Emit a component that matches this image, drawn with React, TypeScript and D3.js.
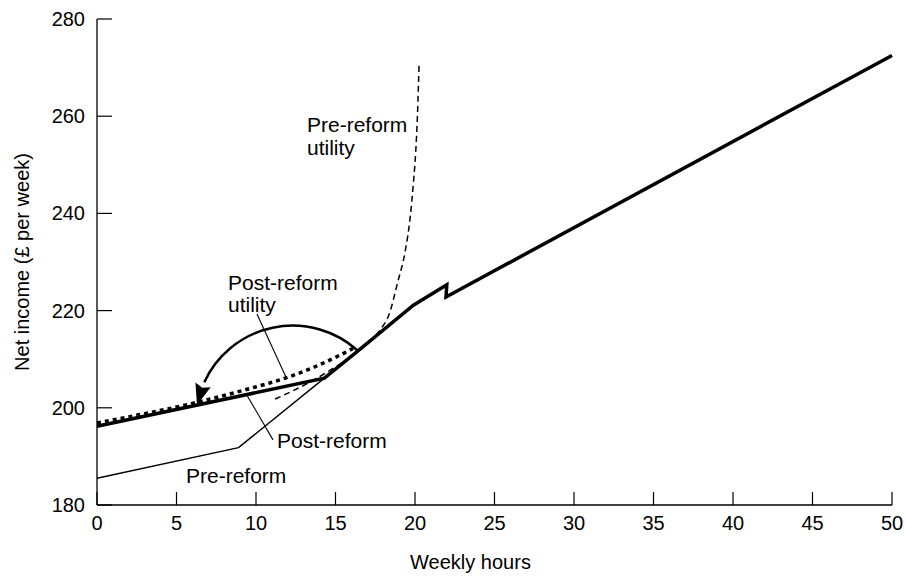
import React from "react";
import * as d3 from "d3";

type P = [number, number];

const xTicks = [0, 5, 10, 15, 20, 25, 30, 35, 40, 45, 50];
const yTicks = [180, 200, 220, 240, 260, 280];

const postReform: P[] = [[0, 196.2], [14.3, 206.1], [16.3, 211.4], [19.9, 221.1], [22.0, 225.3], [21.95, 222.8], [50, 272.5]];
const preReform: P[] = [[0, 185.5], [8.9, 191.8], [14.3, 206.1]];
const postUtility: P[] = [[0, 196.9], [3, 198.8], [6, 200.9], [9.2, 203.6], [12.1, 206.4], [13.6, 208.3], [15.2, 210.7], [16.1, 212.2]];
const preUtility: P[] = [[11.2, 201.8], [13.4, 205.3], [14.6, 207.6], [15.9, 210.4], [17.0, 213.3], [17.8, 216.0], [18.4, 219.5], [18.9, 225.7], [19.4, 232.5], [19.7, 239.3], [19.9, 246.3], [20.05, 253.0], [20.15, 259.8], [20.22, 266.8], [20.26, 271.0]];
// arrow: start, apex, tip (data units) — drawn as circular arc through them
const arrowArc: P[] = [[16.35, 211.9], [12.14, 216.9], [6.29, 200.6]];
const leaderPostUtility: P[] = [[10.06, 219.3], [11.89, 206.3]];
const leaderPost: P[] = [[9.43, 202.6], [11.07, 193.4]];

const W = 906, H = 577;
const M = { left: 97, right: 14, top: 19, bottom: 72 };
const FONT = "'Liberation Sans', Arial, Helvetica, sans-serif";
const FS = 20;
const LFS = 21;

function circleThrough(a: P, b: P, c: P) {
  const [x1, y1] = a, [x2, y2] = b, [x3, y3] = c;
  const A1 = 2 * (x2 - x1), B1 = 2 * (y2 - y1), C1 = x2 * x2 - x1 * x1 + y2 * y2 - y1 * y1;
  const A2 = 2 * (x3 - x2), B2 = 2 * (y3 - y2), C2 = x3 * x3 - x2 * x2 + y3 * y3 - y2 * y2;
  const det = A1 * B2 - A2 * B1;
  const cx = (C1 * B2 - C2 * B1) / det;
  const cy = (A1 * C2 - A2 * C1) / det;
  return { cx, cy, r: Math.hypot(x1 - cx, y1 - cy) };
}

export default function App() {
  const x = d3.scaleLinear().domain([0, 50]).range([M.left, W - M.right]);
  const y = d3.scaleLinear().domain([180, 280]).range([H - M.bottom, M.top]);
  const lin = d3.line<P>().x(d => x(d[0])).y(d => y(d[1]));
  const smooth = d3.line<P>().x(d => x(d[0])).y(d => y(d[1])).curve(d3.curveMonotoneX);

  const px = arrowArc.map(d => [x(d[0]), y(d[1])] as P);
  const { cx, cy, r } = circleThrough(px[0], px[1], px[2]);
  const a0 = Math.atan2(px[0][1] - cy, px[0][0] - cx);
  const a2 = Math.atan2(px[2][1] - cy, px[2][0] - cx);
  let aEnd = a2;
  while (aEnd > a0) aEnd -= 2 * Math.PI;
  const headL = 21, headW = 8;
  const aBase = aEnd + headL / r;
  const p = d3.path();
  p.arc(cx, cy, r, a0, aBase + 0.03, true);
  const tip = px[2];
  const base: P = [cx + r * Math.cos(aBase), cy + r * Math.sin(aBase)];
  const dx = tip[0] - base[0], dy = tip[1] - base[1];
  const len = Math.hypot(dx, dy);
  const ux = dx / len, uy = dy / len;
  const head = `M${tip[0]},${tip[1]}L${base[0] - uy * headW},${base[1] + ux * headW}L${base[0] + ux * 3},${base[1] + uy * 3}L${base[0] + uy * headW},${base[1] - ux * headW}Z`;

  const x0 = x(0), y0 = y(180);
  return (
    <svg width={W} height={H} style={{ position: "absolute", left: 0, top: 0, background: "#fff" }} fontFamily={FONT}>
      <line x1={x0} x2={x0} y1={y(280)} y2={y0} stroke="#000" strokeWidth={1.3} />
      <line x1={x0} x2={x(50)} y1={y0} y2={y0} stroke="#000" strokeWidth={1.3} />
      {yTicks.map(t => (
        <g key={"y" + t}>
          <line x1={x0} x2={x0 + 15} y1={y(t)} y2={y(t)} stroke="#000" strokeWidth={1.2} />
          <text x={x0 - 12} y={y(t)} dy="0.35em" textAnchor="end" fontSize={FS} fill="#000">{t}</text>
        </g>
      ))}
      {xTicks.map(t => (
        <g key={"x" + t}>
          <line x1={x(t)} x2={x(t)} y1={y0} y2={y0 - 13} stroke="#000" strokeWidth={1.2} />
          <text x={x(t)} y={y0 + 25} textAnchor="middle" fontSize={FS} fill="#000">{t}</text>
        </g>
      ))}
      <text x={(x(0) + x(50)) / 2 - 24} y={569} textAnchor="middle" fontSize={FS} fill="#000">Weekly hours</text>
      <text transform={`translate(29,${(y(180) + y(280)) / 2}) rotate(-90)`} textAnchor="middle" fontSize={FS} fill="#000">Net income (£ per week)</text>

      <path d={lin(preReform) || ""} fill="none" stroke="#000" strokeWidth={1.4} />
      <path d={smooth(preUtility) || ""} fill="none" stroke="#000" strokeWidth={1.5} strokeDasharray="6,4" />
      <path d={smooth(postUtility) || ""} fill="none" stroke="#000" strokeWidth={3.5} strokeDasharray="4,4" />
      <path d={lin(postReform) || ""} fill="none" stroke="#000" strokeWidth={3.5} strokeLinejoin="miter" />
      <path d={p.toString()} fill="none" stroke="#000" strokeWidth={2.5} />
      <path d={head} fill="#000" />

      <path d={lin(leaderPostUtility) || ""} fill="none" stroke="#000" strokeWidth={1.1} />
      <path d={lin(leaderPost) || ""} fill="none" stroke="#000" strokeWidth={1.1} />

      <text x={307} y={132} fontSize={LFS} fill="#000">Pre-reform</text>
      <text x={307} y={155} fontSize={LFS} fill="#000">utility</text>
      <text x={228} y={290} fontSize={LFS} fill="#000">Post-reform</text>
      <text x={228} y={312} fontSize={LFS} fill="#000">utility</text>
      <text x={277} y={448} fontSize={LFS} fill="#000">Post-reform</text>
      <text x={186} y={483} fontSize={LFS} fill="#000">Pre-reform</text>
    </svg>
  );
}
